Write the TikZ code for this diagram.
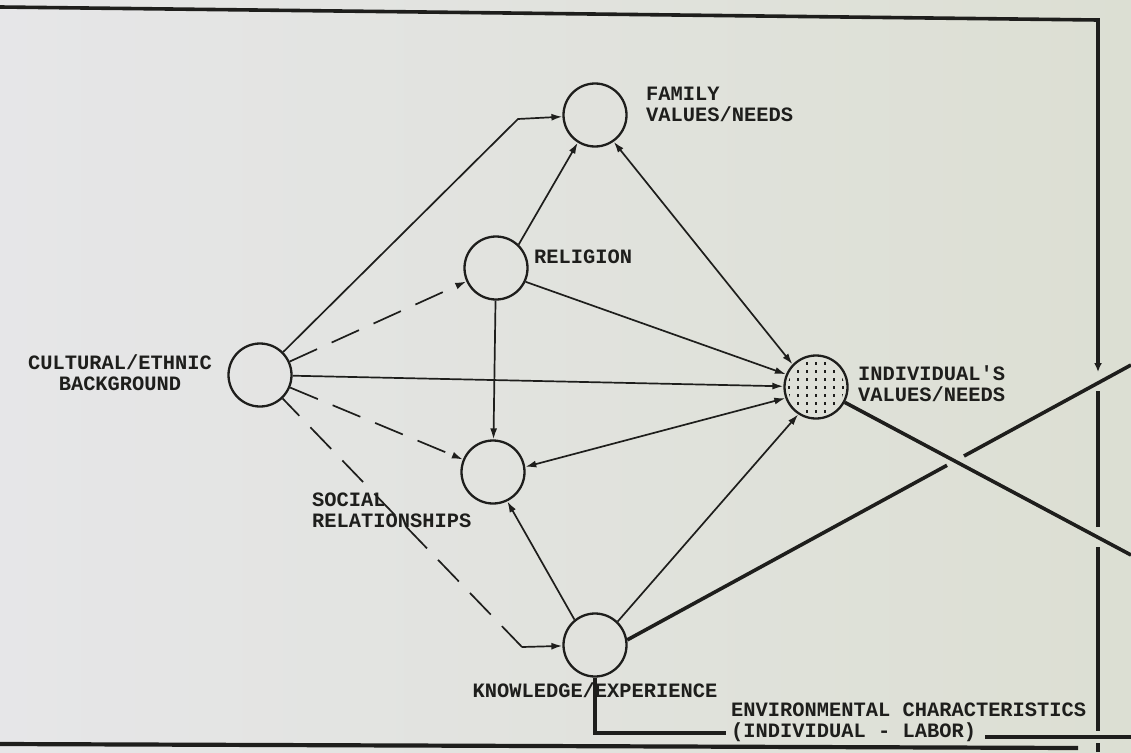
\documentclass[tikz,border=0pt]{standalone}
\usepackage{fontspec}
\setmonofont{Liberation Mono}
\usetikzlibrary{arrows.meta}
\definecolor{inkc}{RGB}{30,30,28}
\definecolor{paperL}{RGB}{230,230,232}
\definecolor{paperR}{RGB}{220,223,211}
\begin{document}
\begin{tikzpicture}[x=1pt,y=-1pt,
  factor/.style={circle,draw=inkc,line width=2.3pt,minimum size=63pt,inner sep=0pt},
  lbl/.style={font=\ttfamily\bfseries\fontsize{20.4}{21}\selectfont,text=inkc,inner sep=0pt},
  link/.style={draw=inkc,line width=1.7pt,-{Latex[length=11pt,width=7pt]}},
  duallink/.style={link,{Latex[length=11pt,width=7pt]}-{Latex[length=11pt,width=7pt]}},
  dashlink/.style={link,dash pattern=on 30pt off 16pt},
  heavy/.style={draw=inkc,line width=3.6pt},
  frame/.style={draw=inkc,line width=3.6pt,line join=miter},
]
% paper
\shade[left color=paperL,right color=paperR] (0,0) rectangle (1131,752);
\useasboundingbox (0,0) rectangle (1131,752);

% factors
\node[factor] (cult) at (260,375) {};
\node[factor] (fam)  at (595,115) {};
\node[factor] (rel)  at (496,268) {};
\node[factor] (soc)  at (493,472) {};
\node[factor] (know) at (595,645) {};
\node[factor] (ind)  at (816,387) {};

% stipple inside the individual's circle
\begin{scope}
  \clip (ind.center) circle (28pt);
  \foreach \i in {-3,...,3}
    \foreach \j in {-4,...,4}
      \fill[inkc] (ind.center) ++(\i*9-1,\j*8-1.5) rectangle ++(2.2,3);
\end{scope}

% labels
\node[lbl,align=left,anchor=west]  (famlbl)  at (646,104) {FAMILY\\VALUES/NEEDS};
\node[lbl,anchor=west]             (rellbl)  at (534,257) {RELIGION};
\node[lbl,align=center,anchor=east] (cultlbl) at (212,373) {CULTURAL/ETHNIC\\BACKGROUND};
\node[lbl,align=left,anchor=west]  (soclbl)  at (312,510) {SOCIAL\\RELATIONSHIPS};
\node[lbl]                         (knowlbl) at (595,690) {KNOWLEDGE/EXPERIENCE};
\node[lbl,align=left,anchor=west]  (indlbl)  at (858,384) {INDIVIDUAL'S\\VALUES/NEEDS};
\node[lbl,align=left,anchor=west]  (envlbl)  at (731,722) {ENVIRONMENTAL CHARACTERISTICS\\(INDIVIDUAL - LABOR)};

% bend points
\coordinate (famturn)  at (518,119);
\coordinate (knowturn) at (522,647);

% influences
\draw[link]     (cult) -- (famturn) -- (fam);
\draw[dashlink] (cult) -- (rel);
\draw[link]     (cult) -- (ind);
\draw[dashlink] (cult) -- (soc);
\draw[draw=inkc,line width=1.7pt,dash pattern=on 30pt off 16pt,dash phase=6pt] (cult) -- (knowturn);
\draw[link]     (knowturn) -- (know);
\draw[link]     (rel.46) -- (fam.-122);
\draw[link]     (rel) -- (soc);
\draw[link]     (rel.-25) -- (ind.157);
\draw[duallink] (fam.-55) -- (ind.136);
\draw[duallink] (soc.9) -- (ind.-160);
\draw[link]     (know.129) -- (soc.-64);
\draw[link]     (know.46) -- (ind.-123);

% outgoing heavy lines (crossing)
\coordinate (exitA) at (1131,365);
\coordinate (exitB) at (1131,555);
\coordinate (gapA1) at (947,465.3);
\coordinate (gapA2) at (964,456.0);
\draw[heavy] (know.9) -- (gapA1);
\draw[heavy] (gapA2) -- (exitA);
\draw[heavy] (ind) -- (exitB);

% environment line
\coordinate (envin)  at (726,733);
\coordinate (envout) at (985,737);
\coordinate (eastB)  at (1131,737);
\draw[heavy] (know.south) -- (know.south |- envin) -- (envin);
\draw[heavy] (envout) -- (eastB);

% frame and feedback
\coordinate (frTL) at (0,7);
\coordinate (frTR) at (1098,20);
\coordinate (frA)  at (1098,372);
\coordinate (frB1) at (1098,391);
\coordinate (frB2) at (1098,527);
\coordinate (frC1) at (1098,547);
\coordinate (frC2) at (1098,731);
\coordinate (frD1) at (1098,743);
\coordinate (frD2) at (1098,752);
\coordinate (frBL) at (0,744);
\coordinate (frBR) at (1078,748);
\draw[frame,-{Latex[length=9pt,width=8pt]}] (frTL) -- (frTR) -- (frA);
\draw[frame] (frB1) -- (frB2);
\draw[frame] (frC1) -- (frC2);
\draw[frame] (frD1) -- (frD2);
\draw[frame,line width=4.2pt] (frBL) -- (frBR);
\end{tikzpicture}
\end{document}
